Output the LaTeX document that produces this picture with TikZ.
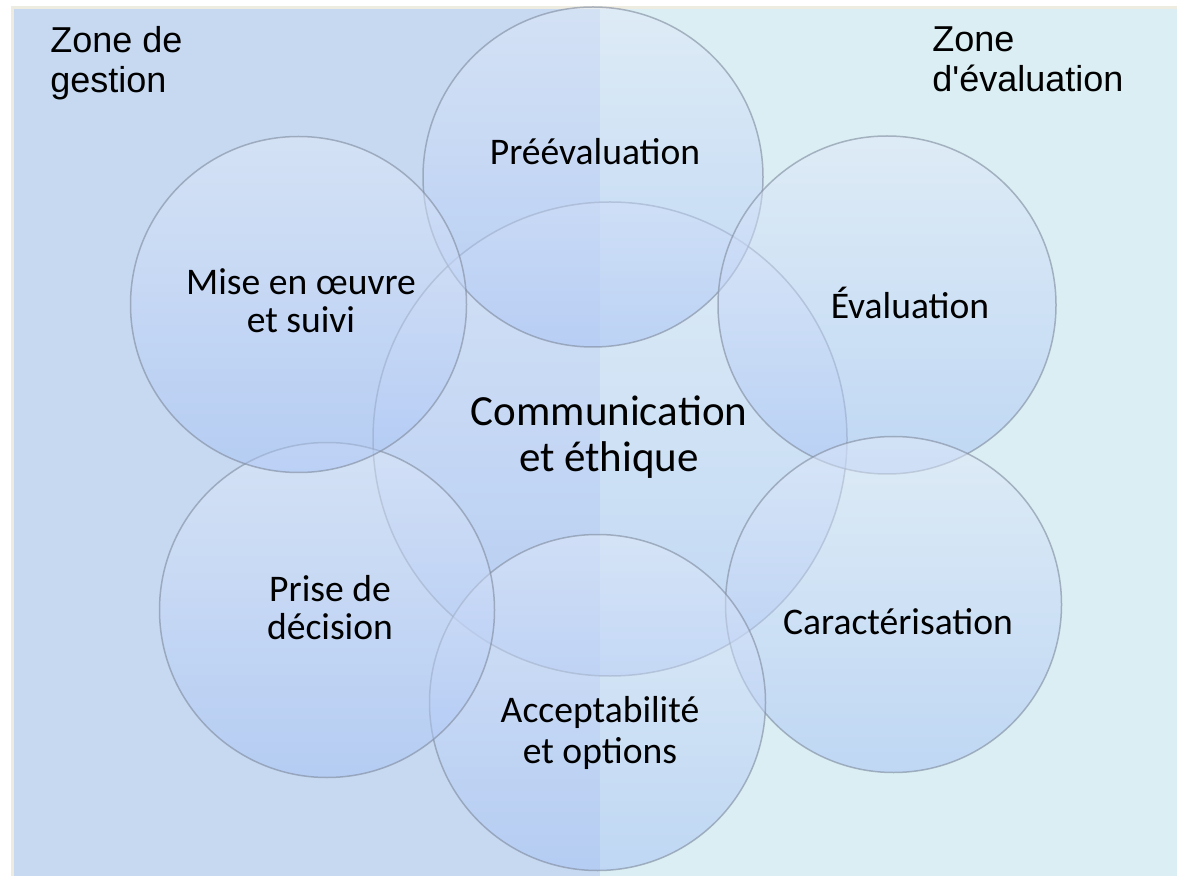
\documentclass[tikz,border=0pt]{standalone}
\usepackage{fontspec}
\setmainfont{Carlito}
\newfontfamily\zonefont{Liberation Sans}[Ligatures=TeXOff]
\definecolor{cadre}{HTML}{EEECE1}
\definecolor{gestion}{HTML}{C6D9F1}
\definecolor{evaluation}{HTML}{DAEEF3}
\definecolor{bulletop}{HTML}{E2EAF9}
\definecolor{bullebas}{HTML}{A6C2F5}
\definecolor{bord}{HTML}{7F8A9C}
\tikzset{
  bulle/.style={circle, inner sep=0pt, draw=bord, draw opacity=0.6, line width=0.75pt,
    top color=bulletop, bottom color=bullebas, fill opacity=0.5},
  etiq/.style={font=\fontsize{18.8}{19}\selectfont, align=center, anchor=base, inner sep=0pt},
  zone/.style={font=\zonefont\fontsize{18}{20}\selectfont, align=left, anchor=base west, inner sep=0pt}
}
\begin{document}
\begin{tikzpicture}[x=0.5pt,y=0.5pt,yscale=-1,xscale=1]
        \useasboundingbox (0,0) rectangle (1177,876);
        % fond : deux zones
        \fill [cadre] (11,6) rectangle (1177,876);
        \fill [gestion] (14,9) rectangle (600,876);
        \fill [evaluation] (600,9) rectangle (1177,876);
        % bulles
        \draw (610,439) node [bulle, minimum size=237pt] (comm) {};
        \draw (593,177) node [bulle, minimum size=170pt] (pre) {};
        \draw (887,305) node [bulle, minimum size=169pt] (eval) {};
        \draw (893.5,604.5) node [bulle, minimum size=168pt] (cara) {};
        \draw (597.5,702.5) node [bulle, minimum size=168pt] (acce) {};
        \draw (327,610) node [bulle, minimum size=167.5pt] (prise) {};
        \draw (298.5,304.5) node [bulle, minimum size=168pt] (mise) {};
        % textes (base = derniere ligne)
        \draw (595,165) node [etiq] (tpre) {Préévaluation};
        \draw (910,319) node [etiq] (teval) {Évaluation};
        \draw (898,634) node [etiq] (tcara) {Caractérisation};
        \draw (301,333) node [etiq] (tmise) {Mise en œuvre\\et suivi};
        \draw (330,639) node [etiq] (tprise) {Prise de\\décision};
        \draw (600,763) node [etiq, font=\fontsize{18.8}{20.5}\selectfont] (tacce) {Acceptabilité\\et options};
        \draw (609,472) node [etiq, font=\fontsize{21.5}{23}\selectfont] (tcomm) {Communication\\et éthique};
        \draw (50,93) node [zone] (zg) {Zone de\\gestion};
        \draw (932,92) node [zone] (ze) {Zone\\d'évaluation};
    \end{tikzpicture}
\end{document}
